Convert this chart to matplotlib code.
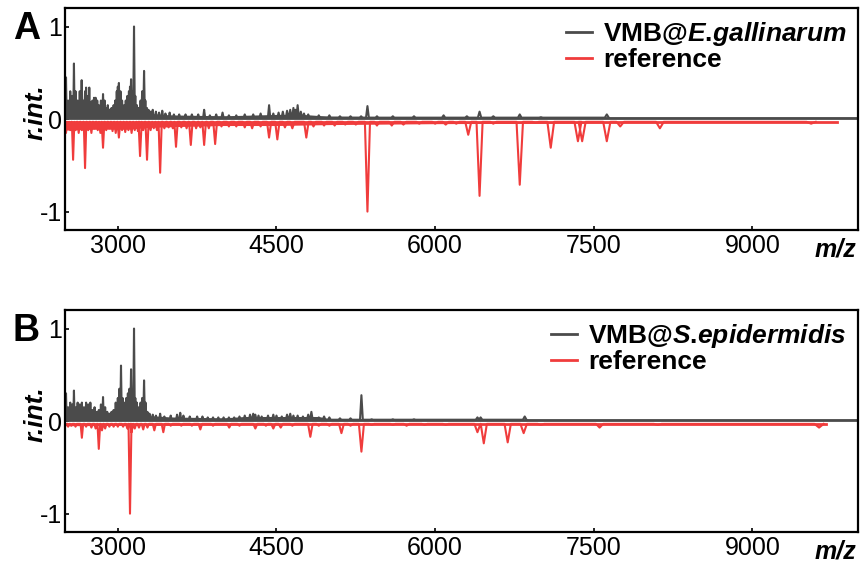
import matplotlib
matplotlib.use('Agg')
import matplotlib.pyplot as plt

plt.rcParams['font.family'] = 'Liberation Sans'
plt.rcParams['axes.unicode_minus'] = False
plt.rcParams['mathtext.fontset'] = 'custom'
plt.rcParams['mathtext.it'] = 'Liberation Sans:bold:italic'
plt.rcParams['mathtext.rm'] = 'Liberation Sans:bold'

# ---- panel A: VMB@E.gallinarum vs reference ----
a_sample_mz = [2510, 2530, 2550, 2570, 2585, 2600, 2620, 2640, 2658, 2675, 2690, 2700, 2715, 2730,
               2745, 2760, 2775, 2790, 2805, 2820, 2840, 2860, 2875, 2890, 2905, 2920, 2940, 2960,
               2975, 2990, 3000, 3010, 3025, 3040, 3060, 3075, 3090, 3105, 3115, 3125, 3140, 3153,
               3165, 3180, 3200, 3215, 3230, 3248, 3260, 3275, 3290, 3310, 3330, 3360, 3390, 3420,
               3450, 3490, 3530, 3580, 3640, 3700, 3760, 3816, 3870, 3930, 3990, 4050, 4120, 4200,
               4280, 4350, 4430, 4470, 4520, 4560, 4600, 4630, 4660, 4680, 4700, 4730, 4760, 4800,
               4900, 5000, 5100, 5200, 5300, 5360, 5450, 5600, 5800, 6080, 6300, 6420, 6550, 6800,
               7000, 7623]
a_sample_int = [0.45, 0.2, 0.3, 0.25, 0.6, 0.3, 0.2, 0.3, 0.42, 0.2, 0.3, 0.34, 0.25, 0.34,
                0.18, 0.2, 0.23, 0.23, 0.2, 0.15, 0.2, 0.27, 0.2, 0.12, 0.15, 0.1, 0.12, 0.15,
                0.2, 0.3, 0.35, 0.39, 0.3, 0.2, 0.15, 0.2, 0.25, 0.3, 0.35, 0.43, 0.3, 1.0,
                0.25, 0.15, 0.12, 0.2, 0.3, 0.52, 0.2, 0.12, 0.1, 0.08, 0.1, 0.08, 0.07, 0.09,
                0.06, 0.07, 0.05, 0.05, 0.05, 0.05, 0.05, 0.1, 0.04, 0.05, 0.07, 0.04, 0.04, 0.05,
                0.05, 0.06, 0.15, 0.06, 0.07, 0.08, 0.09, 0.1, 0.12, 0.1, 0.15, 0.08, 0.06, 0.05,
                0.04, 0.04, 0.03, 0.03, 0.03, 0.14, 0.03, 0.03, 0.03, 0.04, 0.03, 0.08, 0.03, 0.05,
                0.02, 0.05]
# noise envelope of the sample trace (m/z, upper level)
a_sample_band_mz = [2500, 2600, 2800, 2950, 3100, 3250, 3300, 3500, 4000, 4500, 4750, 5000, 6000, 7700, 10000]
a_sample_band = [0.16, 0.14, 0.1, 0.12, 0.16, 0.12, 0.06, 0.045, 0.035, 0.05, 0.05, 0.03, 0.025, 0.02, 0.02]

a_ref_mz = [2510, 2530, 2550, 2577, 2600, 2630, 2660, 2690, 2720, 2750, 2780, 2810, 2835, 2860,
            2890, 2920, 2950, 2980, 3010, 3040, 3070, 3100, 3130, 3160, 3190, 3210, 3240, 3276,
            3310, 3340, 3370, 3400, 3440, 3480, 3520, 3550, 3600, 3650, 3690, 3740, 3780, 3816,
            3860, 3920, 3980, 4050, 4120, 4200, 4270, 4350, 4430, 4508, 4580, 4650, 4782, 4850,
            4950, 5050, 5150, 5250, 5360, 5450, 5590, 5700, 5850, 6000, 6100, 6200,
            6313, 6420, 6550, 6800, 6950, 7093, 7350, 7390,
            7623, 7750, 8125, 9034, 9233, 9555]
a_ref_int = [0.15, 0.1, 0.12, 0.44, 0.12, 0.15, 0.12, 0.53, 0.12, 0.15, 0.1, 0.12, 0.15, 0.31,
             0.12, 0.1, 0.13, 0.15, 0.2, 0.12, 0.14, 0.12, 0.15, 0.12, 0.13, 0.4, 0.12, 0.44,
             0.12, 0.1, 0.12, 0.58, 0.1, 0.09, 0.1, 0.3, 0.09, 0.1, 0.28, 0.1, 0.09, 0.28,
             0.1, 0.27, 0.08, 0.08, 0.08, 0.09, 0.1, 0.08, 0.2, 0.22, 0.09, 0.1, 0.2, 0.08,
             0.07, 0.07, 0.06, 0.06, 1.0, 0.07, 0.07, 0.06, 0.05, 0.05, 0.06, 0.05,
             0.17, 0.83, 0.05, 0.71, 0.04, 0.31, 0.24, 0.24,
             0.24, 0.08, 0.1, 0.03, 0.03, 0.05]
a_ref_band_mz = [2500, 2800, 3100, 3300, 3600, 4000, 4500, 5000, 6000, 7000, 7700, 9800]
a_ref_band = [0.12, 0.11, 0.11, 0.09, 0.08, 0.07, 0.07, 0.06, 0.05, 0.045, 0.04, 0.035]

# ---- panel B: VMB@S.epidermidis vs reference ----
b_sample_mz = [2510, 2530, 2550, 2570, 2585, 2605, 2620, 2640, 2660, 2680, 2700, 2720, 2740, 2760,
               2780, 2800, 2820, 2840, 2860, 2880, 2900, 2920, 2940, 2960, 2980, 3000, 3015, 3030,
               3045, 3060, 3080, 3095, 3110, 3125, 3140, 3153, 3165, 3180, 3200, 3215, 3230, 3248,
               3262, 3280, 3300, 3330, 3360, 3400, 3440, 3500, 3560, 3590, 3620, 3680, 3750, 3800,
               3850, 3900, 3950, 4000, 4050, 4100, 4150, 4200, 4250, 4280, 4300, 4330, 4360, 4420,
               4470, 4500, 4550, 4600, 4630, 4660, 4700, 4750, 4800, 4830, 4900, 4950, 5000, 5100,
               5200, 5303, 5400, 5600, 5800, 6400, 6430, 6847]
b_sample_int = [0.3, 0.15, 0.2, 0.18, 0.33, 0.15, 0.2, 0.18, 0.2, 0.15, 0.2, 0.18, 0.2, 0.12,
                0.15, 0.1, 0.12, 0.18, 0.26, 0.15, 0.1, 0.08, 0.1, 0.12, 0.2, 0.25, 0.35, 0.6,
                0.25, 0.2, 0.25, 0.3, 0.35, 0.56, 0.3, 1.0, 0.25, 0.2, 0.15, 0.2, 0.25, 0.44,
                0.2, 0.1, 0.08, 0.07, 0.06, 0.08, 0.05, 0.06, 0.07, 0.09, 0.06, 0.05, 0.05, 0.05,
                0.04, 0.04, 0.04, 0.04, 0.04, 0.04, 0.05, 0.06, 0.07, 0.08, 0.07, 0.06, 0.05, 0.06,
                0.07, 0.06, 0.05, 0.07, 0.08, 0.06, 0.06, 0.05, 0.07, 0.1, 0.04, 0.05, 0.04, 0.03,
                0.03, 0.28, 0.02, 0.02, 0.02, 0.04, 0.04, 0.05]
b_sample_band_mz = [2500, 2700, 2900, 3000, 3250, 3300, 3500, 4000, 4200, 4900, 5000, 6000, 10000]
b_sample_band = [0.14, 0.12, 0.08, 0.14, 0.14, 0.06, 0.045, 0.035, 0.05, 0.05, 0.025, 0.02, 0.02]

b_ref_mz = [2530, 2560, 2600, 2660, 2700, 2750, 2790, 2820, 2850, 2880, 2920, 2960, 3000, 3050,
            3090, 3115, 3130, 3160, 3200, 3240, 3280, 3345, 3430, 3500, 3600, 3700, 3780, 3900,
            4053, 4150, 4300, 4400, 4470, 4540, 4650, 4820, 4900, 5000, 5114, 5200, 5303, 5400,
            5600, 5730, 5900, 6100, 6400, 6460, 6686, 6837, 7000, 7555, 8105, 9195, 9630]
b_ref_int = [0.06, 0.05, 0.06, 0.18, 0.06, 0.07, 0.08, 0.3, 0.1, 0.08, 0.06, 0.06, 0.06, 0.06,
             0.08, 1.0, 0.12, 0.08, 0.07, 0.09, 0.07, 0.1, 0.12, 0.05, 0.05, 0.05, 0.09, 0.05,
             0.07, 0.05, 0.08, 0.05, 0.08, 0.07, 0.05, 0.17, 0.05, 0.05, 0.13, 0.05, 0.33, 0.04,
             0.04, 0.05, 0.04, 0.04, 0.12, 0.24, 0.23, 0.13, 0.04, 0.07, 0.04, 0.03, 0.07]
b_ref_band_mz = [2500, 3300, 4000, 5400, 9700]
b_ref_band = [0.05, 0.045, 0.04, 0.035, 0.035]

xticks = [3000, 4500, 6000, 7500, 9000]
yticks = [-1, 0, 1]

GRAY = '#4b4b4b'
RED = '#f03c3c'
SAMPLE_FLOOR = 0.015
REF_FLOOR = -0.03


def peak_trace(mz, inten, floor, sign, rel_width):
    # each peak drawn as a narrow spike; width is only a drawing style
    xs, ys = [], []
    for m, v in zip(mz, inten):
        w = m * rel_width
        xs += [m - w, m, m + w]
        ys += [floor, sign * v, floor]
    return xs, ys


fig = plt.figure(figsize=(8.66, 5.71), dpi=100)
ax_a = fig.add_axes([0.075, 0.597, 0.916, 0.389])
ax_b = fig.add_axes([0.075, 0.068, 0.916, 0.389])

panels = [
    (ax_a, 'A', r'VMB@$\mathit{E}$.$\mathit{gallinarum}$',
     a_sample_mz, a_sample_int, a_sample_band_mz, a_sample_band,
     a_ref_mz, a_ref_int, a_ref_band_mz, a_ref_band),
    (ax_b, 'B', r'VMB@$\mathit{S}$.$\mathit{epidermidis}$',
     b_sample_mz, b_sample_int, b_sample_band_mz, b_sample_band,
     b_ref_mz, b_ref_int, b_ref_band_mz, b_ref_band),
]

for ax, tag, lab, smz, sint, sbmz, sb, rmz, rint, rbmz, rb in panels:
    # sample (top)
    ax.fill_between(sbmz, SAMPLE_FLOOR, sb, color=GRAY, lw=0)
    ax.axhline(SAMPLE_FLOOR, color=GRAY, lw=2.0)
    xs, ys = peak_trace(smz, sint, SAMPLE_FLOOR, 1, 0.0025)
    ax.plot(xs, ys, color=GRAY, lw=1.5)
    # reference (mirrored)
    ax.fill_between(rbmz, REF_FLOOR, [-v for v in rb], color=RED, lw=0)
    ax.plot([rbmz[0], rbmz[-1]], [REF_FLOOR, REF_FLOOR], color=RED, lw=2.0)
    xs, ys = peak_trace(rmz, rint, REF_FLOOR, -1, 0.0045)
    ax.plot(xs, ys, color=RED, lw=1.5)

    ax.plot([], [], color=GRAY, lw=2.0, label=lab)
    ax.plot([], [], color=RED, lw=2.0, label='reference')

    ax.set_xlim(2500, 10000)
    ax.set_ylim(-1.2, 1.2)
    ax.set_xticks(xticks)
    ax.set_yticks(yticks)
    ax.tick_params(direction='in', length=3, width=1.2, labelsize=18, pad=3)
    ax.tick_params(axis='y', pad=2)
    for s in ax.spines.values():
        s.set_linewidth(1.6)

    ax.set_ylabel('r.int.', fontsize=19, fontweight='bold', fontstyle='italic')
    ax.yaxis.set_label_coords(-0.022, 0.53)
    ax.text(0.998, -0.035, 'm/z', transform=ax.transAxes, ha='right', va='top',
            fontsize=18, fontweight='bold', fontstyle='italic')

    ax.legend(loc='upper right', frameon=False, handlelength=1.0,
              handletextpad=0.4, labelspacing=0.02, borderaxespad=0.05,
              prop={'weight': 'bold', 'size': 19})

    bb = ax.get_position()
    fig.text(0.015, bb.y1 - 0.005, tag, fontsize=27, fontweight='bold', va='top', ha='left')

fig.savefig('out.png', dpi=100)
